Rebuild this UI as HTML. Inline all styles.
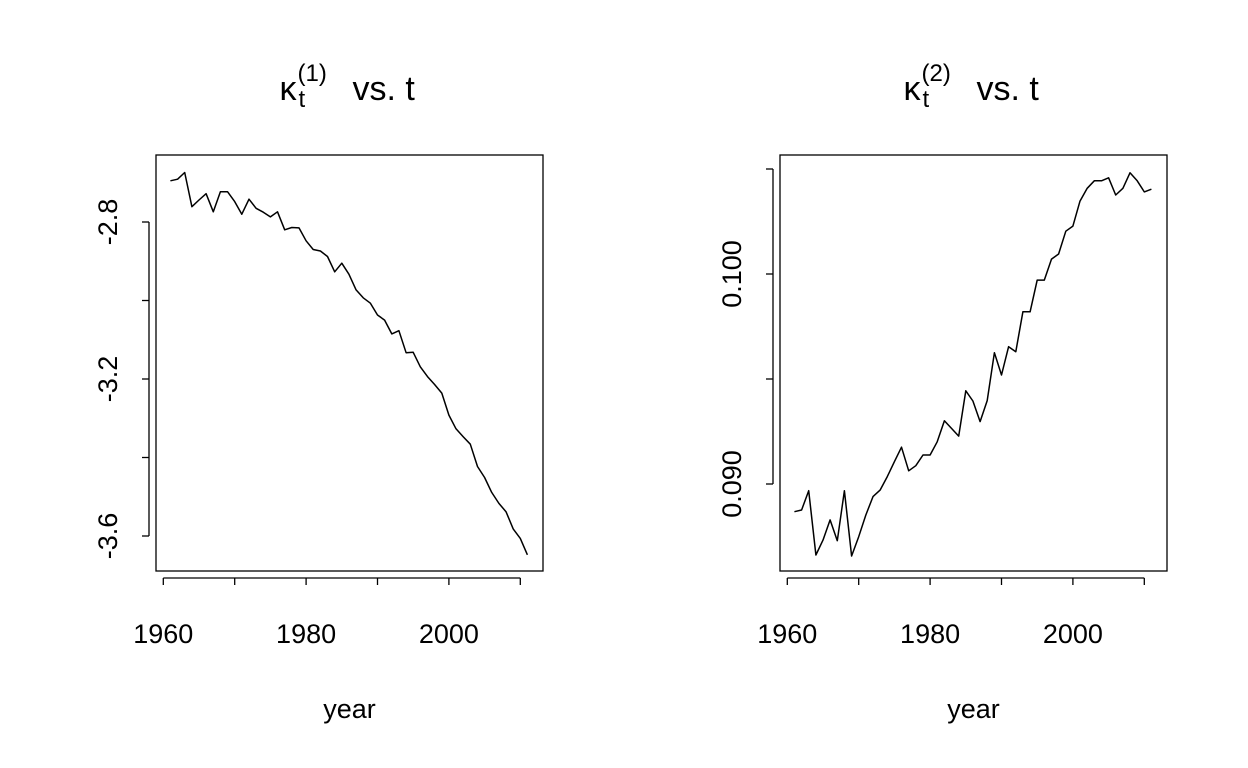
<!DOCTYPE html>
<html><head><meta charset="utf-8"><style>
html,body{margin:0;padding:0;background:#fff;}
svg{display:block;font-family:"Liberation Sans",Arial,sans-serif;}
</style></head><body>
<svg id="chart" width="1248" height="768" viewBox="0 0 1248 768" xmlns="http://www.w3.org/2000/svg">
<rect x="0" y="0" width="1248" height="768" fill="#fff"/>
<g id="p1"></g>
<g id="p2"></g>
</svg>
<script>
const years = [];
for (let y = 1961; y <= 2011; y++) years.push(y);
const kappa1 = [-2.695,-2.691,-2.674,-2.761,-2.744,-2.728,-2.774,-2.723,-2.723,-2.748,-2.780,-2.742,-2.765,-2.775,-2.787,-2.774,-2.820,-2.814,-2.815,-2.848,-2.870,-2.874,-2.888,-2.927,-2.905,-2.933,-2.973,-2.993,-3.007,-3.037,-3.050,-3.085,-3.077,-3.133,-3.132,-3.169,-3.194,-3.214,-3.236,-3.292,-3.327,-3.347,-3.366,-3.423,-3.451,-3.489,-3.517,-3.538,-3.582,-3.606,-3.648];
const kappa2 = [0.08868,0.08876,0.08968,0.08662,0.08733,0.08829,0.08730,0.08968,0.08657,0.08749,0.08852,0.08940,0.08971,0.09035,0.09106,0.09175,0.09063,0.09087,0.09138,0.09138,0.09201,0.09301,0.09265,0.09228,0.09444,0.09395,0.09297,0.09397,0.09625,0.09519,0.09654,0.09630,0.09820,0.09820,0.09971,0.09971,0.10071,0.10095,0.10204,0.10228,0.10347,0.10408,0.10444,0.10444,0.10458,0.10376,0.10408,0.10482,0.10444,0.10391,0.10404];
const xTicks = [1960,1970,1980,1990,2000,2010];
const xLabels = ["1960","","1980","","2000",""];
const y1Ticks = [-2.8,-3.0,-3.2,-3.4,-3.6];
const y1Labels = ["-2.8","","-3.2","","-3.6"];
const y2Ticks = [0.090,0.095,0.100,0.105];
const y2Labels = ["0.090","","0.100",""];

const NS = "http://www.w3.org/2000/svg";
function mk(parent, tag, attrs, text){
  const e = document.createElementNS(NS, tag);
  for (const k in attrs) e.setAttribute(k, attrs[k]);
  if (text !== undefined) e.textContent = text;
  parent.appendChild(e);
  return e;
}
function panel(g, box, xs, ys, data, yT, yL, sup){
  const xScale = v => xs.p0 + (v - xs.v0) * xs.k;
  const yScale = v => ys.p0 + (v - ys.v0) * ys.k;
  const frame = mk(g,'rect',{x:box.x,y:box.y,width:box.w,height:box.h,fill:'none',stroke:'#000','stroke-width':1.3});
  
  
  const ax = mk(g,'g',{});
  
  
  const bx = box.y + box.h + 7;
  mk(ax,'line',{x1:xScale(xTicks[0]),x2:xScale(xTicks[xTicks.length-1]),y1:bx,y2:bx,stroke:'#000','stroke-width':1.3});
  xTicks.forEach((t,i)=>{
    const X = xScale(t);
    mk(ax,'line',{x1:X,x2:X,y1:bx,y2:bx+7,stroke:'#000','stroke-width':1.3});
    if (xLabels[i]) {
      const tl = mk(ax,'text',{x:X,y:bx+65,'text-anchor':'middle','font-size':27},xLabels[i]);
      
      
    }
  });
  const ay = mk(g,'g',{});
  
  
  const lx = box.x - 7;
  mk(ay,'line',{x1:lx,x2:lx,y1:yScale(yT[0]),y2:yScale(yT[yT.length-1]),stroke:'#000','stroke-width':1.3});
  yT.forEach((t,i)=>{
    const Y = yScale(t);
    mk(ay,'line',{x1:lx-7,x2:lx,y1:Y,y2:Y,stroke:'#000','stroke-width':1.3});
    if (yL[i]) {
      const tl = mk(ay,'text',{x:0,y:0,'text-anchor':'middle','font-size':27,transform:`translate(${lx-32},${Y}) rotate(-90)`},yL[i]);
      
      
    }
  });
  const d = data.map((v,i)=>(i?'L':'M')+xScale(years[i]).toFixed(1)+','+yScale(v).toFixed(1)).join(' ');
  const ln = mk(g,'path',{d:d,fill:'none',stroke:'#000','stroke-width':1.5,'stroke-linejoin':'round'});
  
  
  const cx = box.x + box.w/2;
  const tt = mk(g,'g',{});
  
  
  mk(tt,'text',{x:cx-70,y:100,'font-size':34},'κ');
  mk(tt,'text',{x:cx-51,y:107,'font-size':24},'t');
  mk(tt,'text',{x:cx-52,y:81,'font-size':24},'('+sup+')');
  mk(tt,'text',{x:cx+3,y:100,'font-size':34},'vs. t');
  const xl = mk(g,'text',{x:cx,y:718,'text-anchor':'middle','font-size':27},'year');
  
  
}
panel(document.getElementById('p1'),{x:156,y:155,w:387,h:416},
  {p0:163.3,v0:1960,k:7.14},{p0:222,v0:-2.8,k:-392.5},kappa1,y1Ticks,y1Labels,'1');
panel(document.getElementById('p2'),{x:780,y:155,w:387,h:416},
  {p0:787.3,v0:1960,k:7.14},{p0:484,v0:0.090,k:-21000},kappa2,y2Ticks,y2Labels,'2');
</script>
</body></html>
